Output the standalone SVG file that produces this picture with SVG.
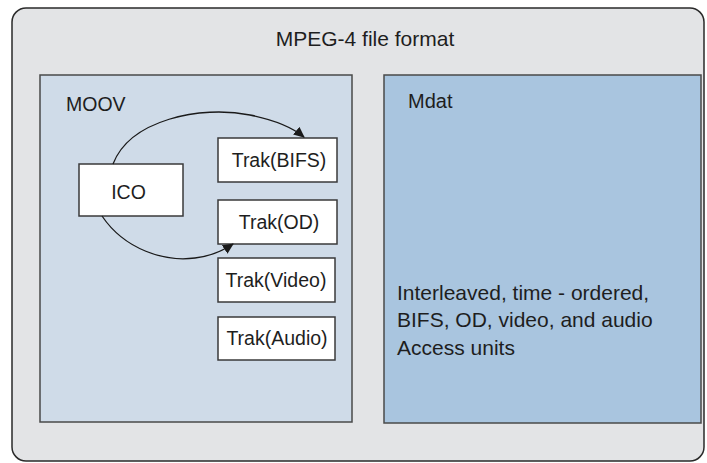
<svg xmlns="http://www.w3.org/2000/svg" width="707" height="463" viewBox="0 0 707 463">
<defs>
<style>
.t{font-family:"Liberation Sans",Arial,sans-serif;fill:#1e1e1e}
.box{fill:#ffffff;stroke:#3a3a3a;stroke-width:1.5}
.conn{fill:none;stroke:#1a1a1a;stroke-width:1.3}
.tk{font-size:19.5px;text-anchor:middle}
.md{font-size:21px}
</style>
<marker id="ah" markerWidth="11" markerHeight="10" refX="10" refY="5" orient="auto" markerUnits="userSpaceOnUse">
<path d="M0,0 L11,5 L0,10 z" fill="#1a1a1a"/>
</marker>
</defs>
<rect width="707" height="463" fill="#ffffff"/>
<g id="mpeg4">
<rect x="12" y="8" width="692" height="453" rx="14" fill="#e3e4e6" stroke="#2a2a2a" stroke-width="1.5"/>
<text class="t" x="365" y="46" font-size="21" text-anchor="middle">MPEG-4 file format</text>
</g>
<g id="moov">
<rect x="40" y="75" width="312" height="347" fill="#cfdbe8" stroke="#4a4a4a" stroke-width="1.5"/>
<text class="t" x="66" y="111" font-size="19.5">MOOV</text>
</g>
<g id="mdat">
<rect x="384" y="75" width="317" height="348" fill="#a9c5df" stroke="#4a4a4a" stroke-width="1.5"/>
<text class="t" x="408" y="108" font-size="20">Mdat</text>
<text class="t md" x="397" y="300">Interleaved, time - ordered,</text>
<text class="t md" x="397" y="327">BIFS, OD, video, and audio</text>
<text class="t md" x="397" y="355">Access units</text>
</g>
<g id="ico">
<rect class="box" x="79" y="164" width="104" height="52"/>
<text class="t" x="128.5" y="199" font-size="19.5" text-anchor="middle">ICO</text>
</g>
<g id="trak-bifs">
<rect class="box" x="218" y="138" width="119" height="44"/>
<text class="t tk" x="279" y="167">Trak(BIFS)</text>
</g>
<g id="trak-od">
<rect class="box" x="218" y="200" width="119" height="44"/>
<text class="t tk" x="279" y="229">Trak(OD)</text>
</g>
<g id="trak-video">
<rect class="box" x="218" y="258" width="117" height="44"/>
<text class="t tk" x="276" y="287">Trak(Video)</text>
</g>
<g id="trak-audio">
<rect class="box" x="218" y="317" width="117" height="43"/>
<text class="t tk" x="277" y="345">Trak(Audio)</text>
</g>
<g id="connectors">
<path class="conn" d="M113,164 C130,120 200,105 250,115 C275,120 293,128 304,137" marker-end="url(#ah)"/>
<path class="conn" d="M102,216 C125,250 165,262 195,258 C212,256 224,250 233,244" marker-end="url(#ah)"/>
</g>
</svg>
